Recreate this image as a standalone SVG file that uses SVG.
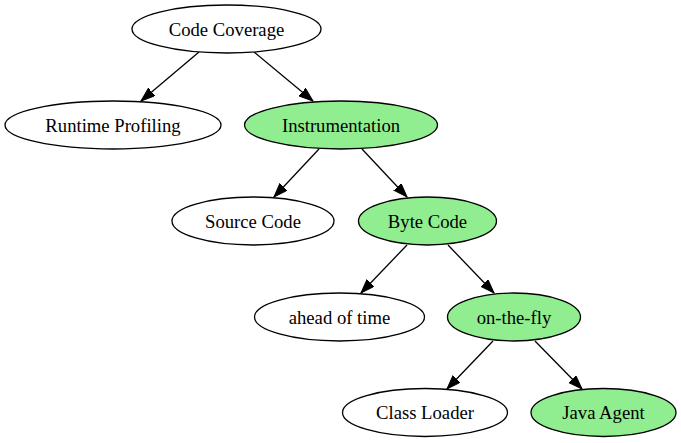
<svg xmlns="http://www.w3.org/2000/svg" width="681" height="443" viewBox="0 0 681 443">
<style>
.n ellipse{stroke:#000;stroke-width:1.3;fill:#fff}
.n.g ellipse{fill:#90ee90}
.n text{font-family:"Liberation Serif","Times New Roman",serif;font-size:18.67px;text-anchor:middle;fill:#000}
.e line{stroke:#000;stroke-width:1.3;marker-end:url(#ah)}
</style>
<defs>
<marker id="ah" markerUnits="userSpaceOnUse" markerWidth="16" markerHeight="12" refX="14" refY="5" orient="auto">
<path d="M0,0 L14,5 L0,10 Z" fill="#000" stroke="#000" stroke-width="1"/>
</marker>
</defs>
<rect width="681" height="443" fill="#fff"/>
<g id="edges" class="e">
<line x1="199" y1="52" x2="141" y2="101"/>
<line x1="254" y1="52" x2="313" y2="101"/>
<line x1="319" y1="149" x2="274" y2="197"/>
<line x1="362" y1="149" x2="407" y2="197"/>
<line x1="407" y1="245" x2="361" y2="293"/>
<line x1="448" y1="245" x2="494" y2="293"/>
<line x1="493" y1="341" x2="447" y2="389"/>
<line x1="535" y1="341" x2="582" y2="389"/>
</g>
<g id="code_coverage" class="n"><ellipse cx="226.5" cy="29" rx="94.5" ry="24"/><text x="226.5" y="35.5">Code Coverage</text></g>
<g id="runtime_profiling" class="n"><ellipse cx="113" cy="125" rx="108" ry="24"/><text x="113" y="131.5">Runtime Profiling</text></g>
<g id="instrumentation" class="n g"><ellipse cx="341" cy="125" rx="96.5" ry="24"/><text x="341" y="131.5">Instrumentation</text></g>
<g id="source_code" class="n"><ellipse cx="253" cy="221" rx="81" ry="24"/><text x="253" y="227.5">Source Code</text></g>
<g id="byte_code" class="n g"><ellipse cx="427.5" cy="221" rx="69" ry="24"/><text x="427.5" y="227.5">Byte Code</text></g>
<g id="ahead_of_time" class="n"><ellipse cx="339.5" cy="317" rx="85" ry="24"/><text x="339.5" y="323.5">ahead of time</text></g>
<g id="on_the_fly" class="n g"><ellipse cx="514" cy="317" rx="66.5" ry="24"/><text x="514" y="323.5">on-the-fly</text></g>
<g id="class_loader" class="n"><ellipse cx="425" cy="412.5" rx="82.5" ry="24"/><text x="425" y="419">Class Loader</text></g>
<g id="java_agent" class="n g"><ellipse cx="603.5" cy="412.5" rx="72.5" ry="24"/><text x="603.5" y="419">Java Agent</text></g>
</svg>
